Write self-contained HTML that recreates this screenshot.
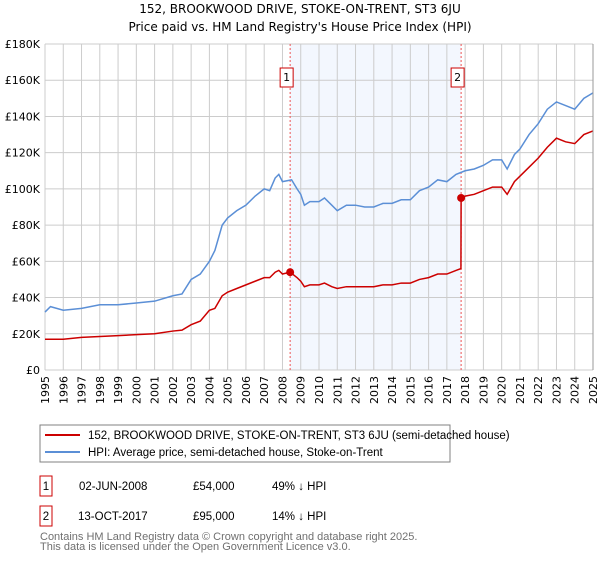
<!DOCTYPE html>
<html><head><meta charset="utf-8"><style>
body{margin:0;background:#fff;font-family:"DejaVu Sans","Liberation Sans",sans-serif;}
svg text{font-family:"DejaVu Sans","Liberation Sans",sans-serif;}
svg text.lib, svg g.lib text{font-family:"Liberation Sans",sans-serif;}
</style></head><body>
<svg id="c" width="600" height="560" xmlns="http://www.w3.org/2000/svg">
<text x="300" y="13" text-anchor="middle" font-size="12">152, BROOKWOOD DRIVE, STOKE-ON-TRENT, ST3 6JU</text>
<text x="300" y="31" text-anchor="middle" font-size="12">Price paid vs. HM Land Registry's House Price Index (HPI)</text>
<g id="plot"></g>
<rect x="40" y="425" width="410" height="37" fill="none" stroke="#808080"/>
<line x1="45" y1="435" x2="80" y2="435" stroke="#cc0000" stroke-width="2"/>
<text class="lib" x="88" y="439" font-size="11.5">152, BROOKWOOD DRIVE, STOKE-ON-TRENT, ST3 6JU (semi-detached house)</text>
<line x1="45" y1="452" x2="80" y2="452" stroke="#5b8fd6" stroke-width="2"/>
<text class="lib" x="88" y="456" font-size="11.5">HPI: Average price, semi-detached house, Stoke-on-Trent</text>
<g class="lib" font-size="11.5">
<rect x="40" y="476" width="12" height="20" fill="#fff" stroke="#cc0000"/>
<text x="46" y="490" text-anchor="middle">1</text>
<text x="79" y="490">02-JUN-2008</text><text x="193" y="490">£54,000</text><text x="272" y="490">49% ↓ HPI</text>
<rect x="40" y="506" width="12" height="20" fill="#fff" stroke="#cc0000"/>
<text x="46" y="520" text-anchor="middle">2</text>
<text x="78" y="520">13-OCT-2017</text><text x="193" y="520">£95,000</text><text x="272" y="520">14% ↓ HPI</text>
</g>
<text class="lib" x="40" y="540" font-size="11" fill="#707070">Contains HM Land Registry data © Crown copyright and database right 2025.</text>
<text class="lib" x="40" y="550" font-size="11" fill="#707070">This data is licensed under the Open Government Licence v3.0.</text>
</svg>
<script>
const yTicks=[0,20,40,60,80,100,120,140,160,180];
const yTickLabels=["£0","£20K","£40K","£60K","£80K","£100K","£120K","£140K","£160K","£180K"];
const years=[1995,1996,1997,1998,1999,2000,2001,2002,2003,2004,2005,2006,2007,2008,2009,2010,2011,2012,2013,2014,2015,2016,2017,2018,2019,2020,2021,2022,2023,2024,2025];
const hpiT=[1995,1995.3,1996,1997,1998,1999,2000,2001,2002,2002.5,2003,2003.5,2004,2004.3,2004.7,2005,2005.5,2006,2006.5,2007,2007.3,2007.6,2007.8,2008,2008.5,2008.8,2009,2009.2,2009.5,2010,2010.3,2010.7,2011,2011.5,2012,2012.5,2013,2013.5,2014,2014.5,2015,2015.5,2016,2016.5,2017,2017.5,2018,2018.5,2019,2019.5,2020,2020.3,2020.7,2021,2021.5,2022,2022.5,2023,2023.5,2024,2024.5,2025];
const hpiV=[32,35,33,34,36,36,37,38,41,42,50,53,60,66,80,84,88,91,96,100,99,106,108,104,105,100,97,91,93,93,95,91,88,91,91,90,90,92,92,94,94,99,101,105,104,108,110,111,113,116,116,111,119,122,130,136,144,148,146,144,150,153];
const priceT=[1995,1996,1997,1998,1999,2000,2001,2002,2002.5,2003,2003.5,2004,2004.3,2004.7,2005,2005.5,2006,2006.5,2007,2007.3,2007.6,2007.8,2008,2008.42,2008.8,2009,2009.2,2009.5,2010,2010.3,2010.7,2011,2011.5,2012,2012.5,2013,2013.5,2014,2014.5,2015,2015.5,2016,2016.5,2017,2017.5,2017.77,2017.78,2018,2018.5,2019,2019.5,2020,2020.3,2020.7,2021,2021.5,2022,2022.5,2023,2023.5,2024,2024.5,2025];
const priceV=[17,17,18,18.5,19,19.5,20,21.5,22,25,27,33,34,41,43,45,47,49,51,51,54,55,53,54,51,49,46,47,47,48,46,45,46,46,46,46,47,47,48,48,50,51,53,53,55,56,95,96,97,99,101,101,97,104,107,112,117,123,128,126,125,130,132];
const saleT=[2008.42,2017.78];
const saleV=[54,95];
const saleLabels=["1","2"];
const NS="http://www.w3.org/2000/svg";
const X0=45,X1=593,Y0=370,Y1=44;
const xs=t=>X0+(t-1995)/30*(X1-X0);
const ys=v=>Y0-v/180*(Y0-Y1);
const g=document.getElementById('plot');
function mk(tag,attrs){const e=document.createElementNS(NS,tag);for(const k in attrs)e.setAttribute(k,attrs[k]);g.appendChild(e);return e;}
const shade=mk('rect',{x:xs(saleT[0]),y:Y1,width:xs(saleT[1])-xs(saleT[0]),height:Y0-Y1,fill:'#eef3fd',opacity:0.7});


years.forEach(y=>{
  const l=mk('line',{x1:xs(y),x2:xs(y),y1:Y1,y2:Y0,stroke:'#cccccc'});
  
  
  const t=mk('text',{x:0,y:0,'font-size':11,'text-anchor':'end',transform:`translate(${xs(y)+4},${Y0+6}) rotate(-90)`});
  t.textContent=y;
  
  
});
yTicks.forEach((v,i)=>{
  const l=mk('line',{x1:X0,x2:X1,y1:ys(v),y2:ys(v),stroke:'#cccccc'});
  
  
  const t=mk('text',{x:X0-5,y:ys(v)+4,'font-size':11,'text-anchor':'end'});
  t.textContent=yTickLabels[i];
  
  
});
saleT.forEach((s,i)=>{
  const l=mk('line',{x1:xs(s),x2:xs(s),y1:Y1,y2:Y0,stroke:'#ee5555','stroke-dasharray':'2,2'});
  
  
});
const hp=mk('polyline',{points:hpiT.map((t,i)=>xs(t)+','+ys(hpiV[i])).join(' '),fill:'none',stroke:'#5b8fd6','stroke-width':1.5});


const pp=mk('polyline',{points:priceT.map((t,i)=>xs(t)+','+ys(priceV[i])).join(' '),fill:'none',stroke:'#cc0000','stroke-width':1.5});


saleT.forEach((s,i)=>{
  const c=mk('circle',{cx:xs(s),cy:ys(saleV[i]),r:4,fill:'#cc0000'});
  
  
  const r=mk('rect',{x:xs(s)-10,y:68,width:13,height:19,fill:'#fff',stroke:'#cc0000'});
  
  
  const t=mk('text',{x:xs(s)-3.5,y:81,'font-size':11,'text-anchor':'middle'});
  t.textContent=saleLabels[i];
  
  
});
const ax=mk('line',{x1:X1,x2:X1,y1:Y1,y2:Y0,stroke:'#999'});


</script>
</body></html>
